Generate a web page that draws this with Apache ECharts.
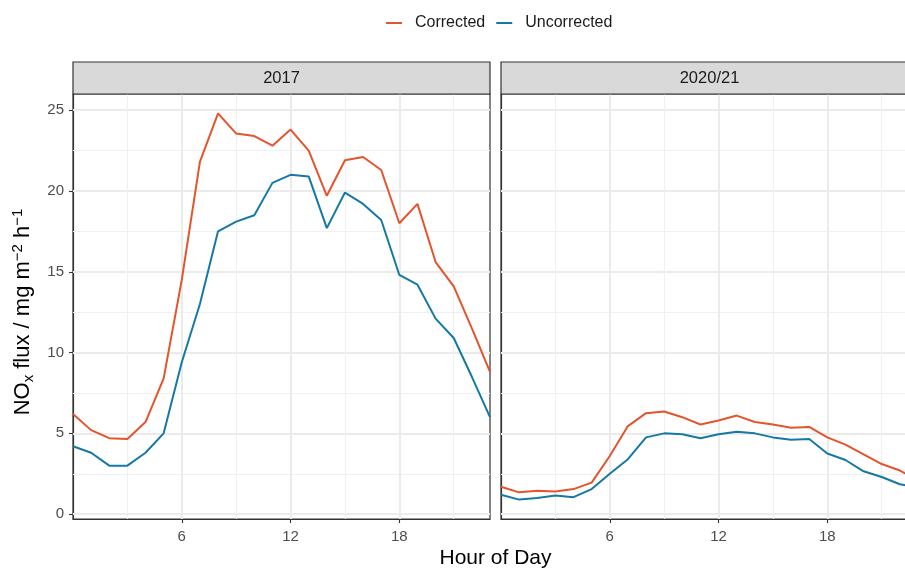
<!DOCTYPE html>
<html>
<head>
<meta charset="utf-8">
<script src="https://cdn.jsdelivr.net/npm/echarts@6/dist/echarts.min.js"></script>
<style>
html,body{margin:0;padding:0;background:#fff;overflow:hidden;width:905px;height:569px;}
#chart{width:921px;height:569px;}
</style>
</head>
<body>
<div id="chart"></div>
<script>
const hours = [0,1,2,3,4,5,6,7,8,9,10,11,12,13,14,15,16,17,18,19,20,21,22,23];
const corrected2017   = [6.2,5.2,4.7,4.65,5.7,8.4,14.5,21.8,24.8,23.55,23.4,22.8,23.8,22.5,19.7,21.9,22.1,21.3,18.0,19.2,15.6,14.1,11.5,8.8];
const uncorrected2017 = [4.2,3.8,3.0,3.0,3.8,5.0,9.4,13.0,17.5,18.1,18.5,20.5,21.0,20.9,17.7,19.9,19.2,18.2,14.8,14.2,12.1,10.9,8.5,6.0];
const corrected2021   = [1.7,1.35,1.45,1.4,1.55,1.95,3.6,5.45,6.25,6.35,6.0,5.55,5.8,6.1,5.7,5.55,5.35,5.4,4.75,4.3,3.7,3.1,2.7,2.1];
const uncorrected2021 = [1.2,0.9,1.0,1.15,1.05,1.55,2.5,3.4,4.75,5.0,4.95,4.7,4.95,5.1,5.0,4.75,4.6,4.65,3.75,3.35,2.65,2.3,1.85,1.65];
const panels = ['2017','2020/21'];
const seriesNames = ['Corrected','Uncorrected'];
const xTicks = [6,12,18];
const yTicks = [0,5,10,15,20,25];
const xMinorGrid = [3,9,15,21];
const yMinorGrid = [2.5,7.5,12.5,17.5,22.5];

const COL_CORR = '#E4542D';
const COL_UNC = '#1679A3';
const FONT = 'Liberation Sans, Arial, Helvetica, sans-serif';

const chart = echarts.init(document.getElementById('chart'), null, {renderer:'canvas'});

const gridDefs = [
  {left:73, top:94, width:417, height:425},
  {left:501, top:94, width:417, height:425}
];

function pairs(arr){ return hours.map((h,i)=>[h, arr[i]]); }

function gridLines(){
  const d = [];
  yTicks.forEach(v=>d.push({yAxis:v, lineStyle:{color:'#EBEBEB', width:2, type:'solid'}}));
  yMinorGrid.forEach(v=>d.push({yAxis:v, lineStyle:{color:'#F0F0F0', width:1.1, type:'solid'}}));
  xTicks.forEach(v=>d.push({xAxis:v, lineStyle:{color:'#EBEBEB', width:2, type:'solid'}}));
  xMinorGrid.forEach(v=>d.push({xAxis:v, lineStyle:{color:'#F0F0F0', width:1.1, type:'solid'}}));
  return d;
}

const grids = gridDefs.map(g=>Object.assign({show:true, backgroundColor:'#fff', borderColor:'#333333', borderWidth:1.2, containLabel:false}, g));

const xAxes = gridDefs.map((g,i)=>({
  type:'value', gridIndex:i, min:0, max:23,
  axisLine:{show:true, onZero:false, lineStyle:{color:'#333333', width:1.2}},
  axisTick:{show:true, length:4, customValues:xTicks, lineStyle:{color:'#333333', width:1.1}},
  axisLabel:{show:true, customValues:xTicks, margin:10, fontSize:15, color:'#4D4D4D', fontFamily:FONT},
  splitLine:{show:false}, minorSplitLine:{show:false}, minorTick:{show:false}
}));

const yAxes = gridDefs.map((g,i)=>(i===0 ? {
  type:'value', gridIndex:i, min:-0.3, max:26.0,
  axisLine:{show:true, onZero:false, lineStyle:{color:'#333333', width:1.2}},
  axisTick:{show:true, length:4, customValues:yTicks, lineStyle:{color:'#333333', width:1.1}},
  axisLabel:{show:true, customValues:yTicks, margin:9, fontSize:15, color:'#4D4D4D', fontFamily:FONT},
  splitLine:{show:false}, minorSplitLine:{show:false}, minorTick:{show:false}
} : {
  type:'value', gridIndex:i, min:-0.3, max:26.0,
  axisLine:{show:true, onZero:false, lineStyle:{color:'#333333', width:1.2}},
  axisTick:{show:false}, axisLabel:{show:false},
  splitLine:{show:false}, minorSplitLine:{show:false}, minorTick:{show:false}
}));

const series = [];
[0,1].forEach(i=>{
  series.push({
    type:'line', name:'_grid'+i, xAxisIndex:i, yAxisIndex:i, data:[], z:1, silent:true,
    markLine:{silent:true, symbol:['none','none'], label:{show:false}, animation:false, data:gridLines()}
  });
});
const dataSets = [[corrected2017, uncorrected2017],[corrected2021, uncorrected2021]];
[0,1].forEach(i=>{
  [0,1].forEach(k=>{
    series.push({
      type:'line', name:seriesNames[k], xAxisIndex:i, yAxisIndex:i,
      data:pairs(dataSets[i][k]), showSymbol:false, symbol:'none', z:5,
      lineStyle:{color:k===0?COL_CORR:COL_UNC, width:2},
      itemStyle:{color:k===0?COL_CORR:COL_UNC},
      animation:false
    });
  });
});

const graphic = [];
gridDefs.forEach((g,i)=>{
  graphic.push({type:'rect', shape:{x:g.left, y:62, width:g.width, height:32},
    style:{fill:'#D9D9D9', stroke:'#333333', lineWidth:1.2}, z:10});
  graphic.push({type:'text', x:g.left+g.width/2, y:78,
    style:{text:panels[i], fontSize:16.5, fontFamily:FONT, fill:'#1A1A1A', textAlign:'center', textVerticalAlign:'middle'}, z:11});
});
graphic.push({type:'text', x:495.5, y:558,
  style:{text:'Hour of Day', fontSize:21, fontFamily:FONT, fill:'#000000', textAlign:'center', textVerticalAlign:'middle'}, z:11});
graphic.push({type:'text', x:23, y:312, rotation:Math.PI/2,
  style:{
    text:'{a|NO}{b|x}{a| flux / mg m}{c|−2}{a| h}{c|−1}',
    textAlign:'center', textVerticalAlign:'middle',
    rich:{
      a:{fontSize:22, fontFamily:FONT, fill:'#000', lineHeight:26, verticalAlign:'middle'},
      b:{fontSize:15, fontFamily:FONT, fill:'#000', lineHeight:26, verticalAlign:'bottom'},
      c:{fontSize:15, fontFamily:FONT, fill:'#000', lineHeight:26, verticalAlign:'top'}
    }
  }, z:11});

chart.setOption({
  backgroundColor:'#ffffff',
  animation:false,
  legend:{
    data:seriesNames, left:381, top:10, icon:'rect', itemWidth:16, itemHeight:2, itemGap:11,
    textStyle:{fontSize:16, fontFamily:FONT, color:'#1A1A1A', padding:[0,0,0,8]}
  },
  grid:grids, xAxis:xAxes, yAxis:yAxes, series:series, graphic:graphic
});
</script>
</body>
</html>
